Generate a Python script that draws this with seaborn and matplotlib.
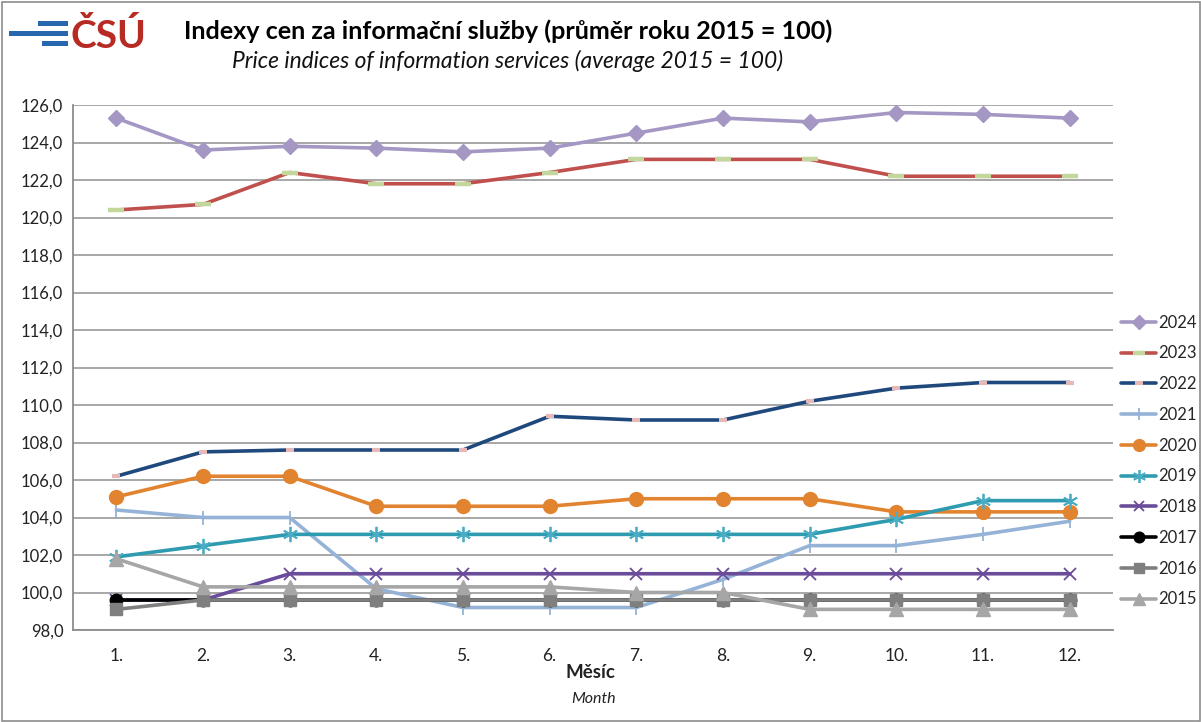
import numpy as np
import pandas as pd
import seaborn as sns
import matplotlib.pyplot as plt
from matplotlib.patches import Rectangle
from matplotlib.lines import Line2D

# data
months = list(range(1, 13))
month_labels = [f"{m}." for m in months]
y_ticks = np.arange(98, 127, 2)

idx_2024 = [125.3, 123.6, 123.8, 123.7, 123.5, 123.7, 124.5, 125.3, 125.1, 125.6, 125.5, 125.3]
idx_2023 = [120.4, 120.7, 122.4, 121.8, 121.8, 122.4, 123.1, 123.1, 123.1, 122.2, 122.2, 122.2]
idx_2022 = [106.2, 107.5, 107.6, 107.6, 107.6, 109.4, 109.2, 109.2, 110.2, 110.9, 111.2, 111.2]
idx_2021 = [104.4, 104.0, 104.0, 100.2, 99.2, 99.2, 99.2, 100.7, 102.5, 102.5, 103.1, 103.8]
idx_2020 = [105.1, 106.2, 106.2, 104.6, 104.6, 104.6, 105.0, 105.0, 105.0, 104.3, 104.3, 104.3]
idx_2019 = [101.9, 102.5, 103.1, 103.1, 103.1, 103.1, 103.1, 103.1, 103.1, 103.9, 104.9, 104.9]
idx_2018 = [99.6, 99.6, 101.0, 101.0, 101.0, 101.0, 101.0, 101.0, 101.0, 101.0, 101.0, 101.0]
idx_2017 = [99.6, 99.6, 99.6, 99.6, 99.6, 99.6, 99.6, 99.6, 99.6, 99.6, 99.6, 99.6]
idx_2016 = [99.1, 99.6, 99.6, 99.6, 99.6, 99.6, 99.6, 99.6, 99.6, 99.6, 99.6, 99.6]
idx_2015 = [101.8, 100.3, 100.3, 100.3, 100.3, 100.3, 100.0, 100.0, 99.1, 99.1, 99.1, 99.1]

years = ["2024", "2023", "2022", "2021", "2020", "2019", "2018", "2017", "2016", "2015"]
values = [idx_2024, idx_2023, idx_2022, idx_2021, idx_2020,
          idx_2019, idx_2018, idx_2017, idx_2016, idx_2015]

# styles: line colour, marker, marker size, marker face, marker edge width
styles = {
    "2024": dict(color="#A597C4", marker="D", ms=8, mfc="#A597C4", mec="#A597C4", mew=1),
    "2023": dict(color="#C0504D", marker="_", ms=11, mfc="#C3D69B", mec="#C3D69B", mew=3.2),
    "2022": dict(color="#1F497D", marker="_", ms=6, mfc="#E6B9B8", mec="#E6B9B8", mew=3.0),
    "2021": dict(color="#95B3D7", marker="|", ms=10, mfc="#95B3D7", mec="#95B3D7", mew=1.3),
    "2020": dict(color="#E2832F", marker="o", ms=10, mfc="#E2832F", mec="#E2832F", mew=1),
    "2019": dict(color="#2E9BB0", marker=(6, 2, 0), ms=11, mfc="#4BACC6", mec="#4BACC6", mew=1.3),
    "2018": dict(color="#6B4C9A", marker="x", ms=9, mfc="#6B4C9A", mec="#6B4C9A", mew=1.3),
    "2017": dict(color="#000000", marker="o", ms=9, mfc="#000000", mec="#000000", mew=1),
    "2016": dict(color="#7F7F7F", marker="s", ms=9, mfc="#7F7F7F", mec="#7F7F7F", mew=1),
    "2015": dict(color="#A6A6A6", marker="^", ms=10, mfc="#A6A6A6", mec="#A6A6A6", mew=1),
}

sns.set_style("white")
plt.rcParams["font.family"] = ["Lato", "DejaVu Sans"]

fig = plt.figure(figsize=(12.01, 7.22), dpi=100)
ax = fig.add_axes([73 / 1201, 1 - 630 / 722, (1113 - 73) / 1201, (630 - 105) / 722])

frames = []
for year, vals in zip(years, values):
    frames.append(pd.DataFrame({"month": months, "index": vals, "year": year}))
df = pd.concat(frames, ignore_index=True)

handles = []
for z, year in enumerate(years):
    st = styles[year]
    sub = df[df["year"] == year]
    sns.lineplot(data=sub, x="month", y="index", ax=ax, color=st["color"], lw=2.6,
                 marker=st["marker"], markersize=st["ms"], markerfacecolor=st["mfc"],
                 markeredgecolor=st["mec"], markeredgewidth=st["mew"], zorder=3 + z,
                 legend=False)
    handles.append(Line2D([0], [0], color=st["color"], lw=2.6, marker=st["marker"],
                          markersize=st["ms"] * 0.85, markerfacecolor=st["mfc"],
                          markeredgecolor=st["mec"], markeredgewidth=st["mew"]))

ax.set_xlim(0.5, 12.5)
ax.set_ylim(98, 126)
ax.set_yticks(y_ticks)
ax.set_yticklabels([f"{v:.1f}".replace(".", ",") for v in y_ticks])
ax.set_xticks(months)
ax.set_xticklabels(month_labels)
ax.set_xticks(np.arange(0.5, 13, 1), minor=True)
ax.tick_params(axis="x", which="major", length=0, pad=13, labelsize=12.5, colors="#222222")
ax.tick_params(axis="x", which="minor", length=6, width=1.2, color="#8C8C8C", direction="out")
ax.tick_params(axis="y", length=5, width=1.2, color="#8C8C8C", direction="out", pad=2,
               labelsize=12, labelcolor="#222222")
ax.yaxis.grid(True, color="#A0A0A0", lw=1.3)
ax.set_axisbelow(True)
for side in ["top", "right"]:
    ax.spines[side].set_visible(False)
for side in ["left", "bottom"]:
    ax.spines[side].set_color("#8C8C8C")
    ax.spines[side].set_linewidth(1.3)
ax.set_xlabel("")
ax.set_ylabel("")

ax.legend(handles, years, loc="center left", bbox_to_anchor=(1121 / 1201, 1 - 461 / 722),
          bbox_transform=fig.transFigure, frameon=False, fontsize=12, handlelength=2.1,
          labelspacing=0.885, handletextpad=0.15, borderaxespad=0, borderpad=0)

# titles
fig.text(508 / 1201, 1 - 31 / 722, "Indexy cen za informační služby (průměr roku 2015 = 100)",
         ha="center", va="center", fontsize=18.1, fontweight="bold", color="#000000")
fig.text(508 / 1201, 1 - 61 / 722, "Price indices of information services (average 2015 = 100)",
         ha="center", va="center", fontsize=16.4, style="italic", color="#111111")
fig.text(590 / 1201, 1 - 673 / 722, "Měsíc", ha="center", va="center", fontsize=13.5,
         fontweight="bold", color="#222222")
fig.text(594 / 1201, 1 - 699 / 722, "Month", ha="center", va="center", fontsize=11.5,
         style="italic", color="#222222")

# CSU logo
blue = "#2867AE"
for x0, x1, y0, y1 in [(38, 68, 21, 26), (9, 68, 31, 36), (42, 68, 41, 46)]:
    fig.add_artist(Rectangle((x0 / 1201, 1 - y1 / 722), (x1 - x0) / 1201, (y1 - y0) / 722,
                             transform=fig.transFigure, color=blue, lw=0))
fig.text(71 / 1201, 1 - 48 / 722, "ČSÚ", ha="left", va="baseline", fontsize=28,
         fontweight="bold", color="#B72B24")

# outer chart border
fig.add_artist(Rectangle((1.5 / 1201, 1.5 / 722), 1 - 3 / 1201, 1 - 3 / 722,
                         transform=fig.transFigure, fill=False, edgecolor="#8C8C8C", lw=1.2))

fig.savefig("out.png", dpi=100)
